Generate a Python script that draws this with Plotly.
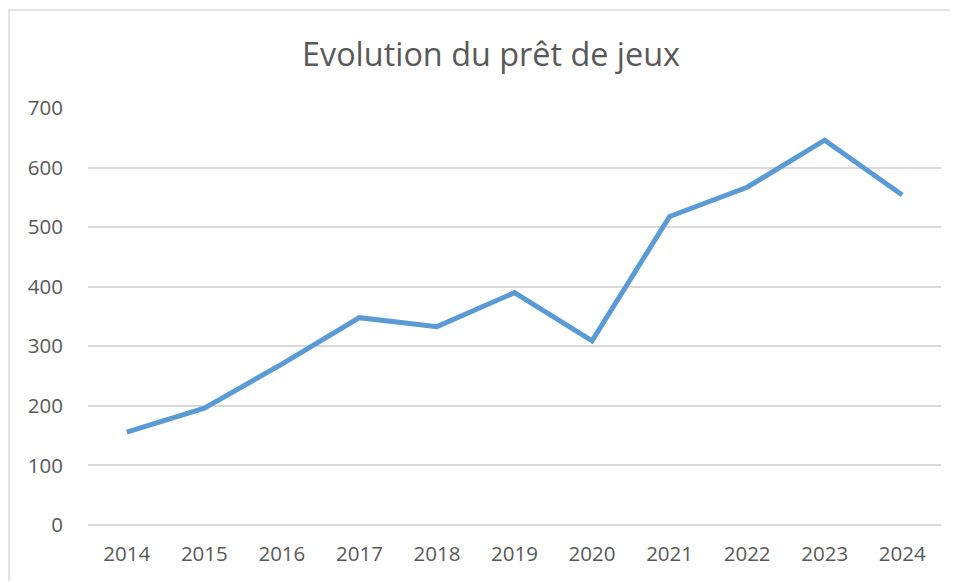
import plotly.graph_objects as go

years = ["2014", "2015", "2016", "2017", "2018", "2019", "2020", "2021", "2022", "2023", "2024"]
prets = [156, 196, 270, 348, 333, 390, 309, 518, 567, 646, 554]
y_ticks = [0, 100, 200, 300, 400, 500, 600, 700]
title_text = "Evolution du prêt de jeux"

# the page body has an 8px margin, so figure coordinates are offset by 8px
OFF = 8
W, H = 958, 581
ml, mt = 88 - OFF, 108 - OFF
pw, ph = 853, 417
mr = W - ml - pw
mb = H - mt - ph

fig = go.Figure()
fig.add_trace(go.Scatter(
    x=years, y=prets, mode="lines",
    line=dict(color="#5B9BD5", width=5),
    hoverinfo="x+y",
))

fig.update_layout(
    width=W, height=H,
    margin=dict(l=ml, r=mr, t=mt, b=mb),
    paper_bgcolor="white", plot_bgcolor="white",
    showlegend=False,
    font=dict(family="Open Sans", color="#595959", size=20),
    title=dict(text=title_text, x=(491 - OFF) / W, xref="container",
               xanchor="center", y=1 - (55 - OFF) / H, yanchor="middle",
               font=dict(family="Open Sans", size=32.4, color="#595959")),
    xaxis=dict(type="category", range=[-0.5, 10.5], showgrid=False, zeroline=False,
               showline=False, ticks="", ticklabelstandoff=14,
               tickfont=dict(size=20.5, color="#595959")),
    yaxis=dict(range=[0, 700], tickvals=y_ticks, showgrid=True, gridcolor="#D9D9D9",
               gridwidth=1.5, zeroline=True, zerolinecolor="#D9D9D9", zerolinewidth=1.5,
               showline=False, ticks="", ticklabelstandoff=24,
               tickfont=dict(size=20.5, color="#595959")),
)

# chart border (Excel-like chart area outline); left edge kept just inside the figure
fig.add_shape(type="rect", xref="paper", yref="paper",
              x0=(1 - ml) / pw, x1=(975 - OFF - ml) / pw,
              y0=-(600 - (H - mb)) / ph, y1=1 + (mt - (10 - OFF)) / ph,
              line=dict(color="#D9D9D9", width=1.5), fillcolor="rgba(0,0,0,0)", layer="below")

fig.write_html("out.html")
